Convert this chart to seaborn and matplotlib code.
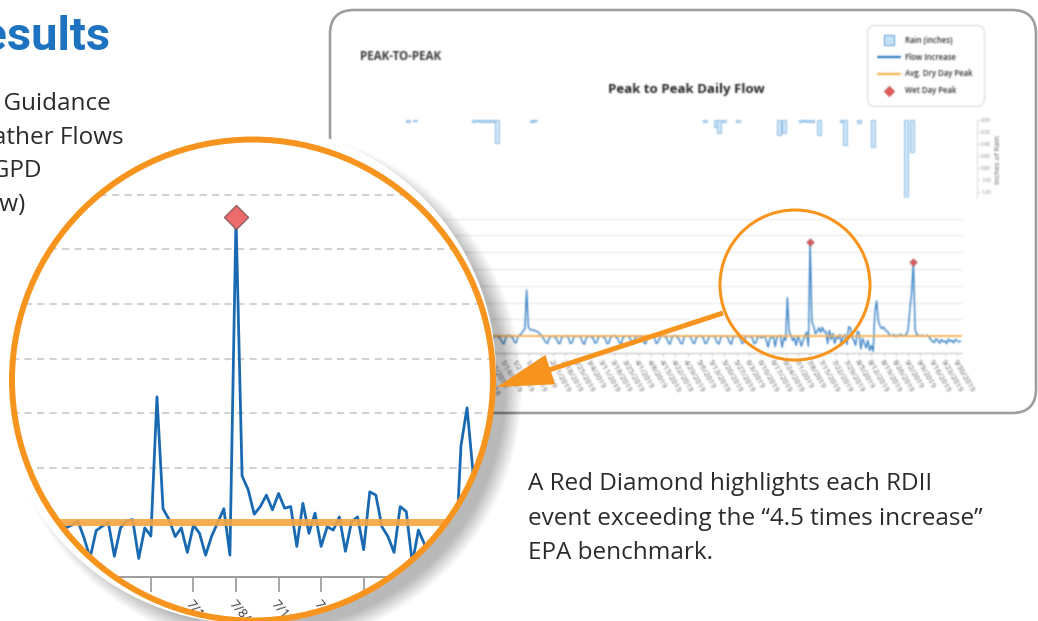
import numpy as np
import pandas as pd
import matplotlib
matplotlib.use("Agg")
import matplotlib.pyplot as plt
import matplotlib.transforms as mtransforms
from matplotlib.patches import Circle, FancyBboxPatch, FancyArrow, Rectangle
from matplotlib.lines import Line2D
import seaborn as sns

# ---------------------------------------------------------------- data
start_date = "2018-11-15"

# daily peak-to-peak flow, in multiples of the average dry-day peak
flow_increase = [
    0.95, 1.02, 0.88, 0.62, 0.55, 0.91, 1.00, 0.97, 1.04, 0.85, 0.58, 0.66, 0.94, 1.01,   # 0-13
    0.99, 0.92, 1.05, 0.71, 0.52, 0.88, 0.97, 1.03, 0.95, 0.90, 0.63, 0.57, 0.93, 1.02,   # 14-27
    0.98, 1.06, 0.89, 0.60, 0.54, 0.90, 0.99, 1.04, 0.96, 0.87, 0.59, 0.65, 0.95, 1.00,   # 28-41
    1.03, 0.94, 0.91, 0.68, 0.56, 0.92, 1.05, 1.12, 0.98, 0.88, 0.61, 0.58, 0.96, 1.04,   # 42-55
    1.00, 0.93, 0.86, 0.64, 0.53, 0.89, 1.01, 1.06, 0.97, 0.92, 0.66, 0.60, 0.94, 1.08,   # 56-69
    1.15, 1.30, 1.45, 3.75, 1.55, 1.40, 1.35, 1.38, 1.30, 1.28, 1.20, 1.10, 0.95, 0.80,   # 70-83
    0.62, 0.58, 0.90, 0.99, 1.03, 0.94, 0.88, 0.60, 0.55, 0.91, 1.02, 0.97, 1.05, 0.86,   # 84-97
    0.57, 0.63, 0.95, 1.01, 0.96, 1.04, 0.90, 0.62, 0.52, 0.87, 0.98, 1.02, 0.93, 0.89,   # 98-111
    0.58, 0.64, 0.92, 1.03, 0.99, 0.95, 0.85, 0.55, 0.60, 0.93, 1.00, 1.06, 0.94, 0.88,   # 112-125
    0.63, 0.51, 0.90, 0.97, 1.04, 0.98, 0.91, 0.59, 0.56, 0.88, 1.01, 0.95, 1.03, 0.87,   # 126-139
    0.61, 0.54, 0.94, 1.02, 0.97, 1.05, 0.92, 0.57, 0.62, 0.89, 0.99, 1.04, 0.96, 0.90,   # 140-153
    0.60, 0.53, 0.91, 1.00, 1.06, 0.93, 0.86, 0.58, 0.55, 0.95, 1.03, 0.98, 1.01, 0.88,   # 154-167
    0.62, 0.57, 0.93, 0.99, 1.05, 0.96, 0.89, 0.56, 0.61, 0.90, 1.02, 0.97, 1.04, 0.85,   # 168-181
    0.59, 0.54, 0.92, 1.01, 0.98, 1.03, 0.90, 0.63, 0.52, 0.94, 1.00, 0.96, 1.05, 0.87,   # 182-195
    0.58, 0.60, 0.91, 1.03, 0.97, 0.99, 0.88, 0.55, 0.62, 0.93, 1.01,                     # 196-206
    0.90, 0.95, 1.02, 0.72, 0.35, 0.85, 0.93, 1.00, 0.38, 0.90, 1.03, 1.05, 0.34, 0.90,   # 207-220
    0.75, 3.30, 1.25, 1.05, 0.74, 0.90, 0.45, 0.95, 0.80, 0.40, 0.75, 1.00, 1.25, 0.40, 6.60,  # 221-235
    1.85, 1.60, 1.15, 1.29, 1.50, 1.23, 1.53, 1.26, 1.29, 0.56, 1.35, 0.80, 1.17, 0.56,   # 236-249
    0.92, 0.86, 1.10, 0.47, 1.01, 1.10, 0.50, 1.56, 1.50, 0.92, 0.74, 0.45, 1.29, 1.20,   # 250-263
    0.25, 0.86, 0.60, 0.30, 0.75, 0.15, 0.45, 0.10, 2.40, 3.10, 1.90, 1.60, 1.45, 1.55,   # 264-277
    1.35, 1.30, 1.15, 1.00, 1.05, 1.10, 0.95, 1.08, 1.02, 1.12, 0.98, 1.05, 1.10, 1.40,   # 278-291
    2.60, 3.60, 5.40, 1.40, 1.10, 1.05, 1.00, 1.07, 0.98, 1.04, 1.06, 0.95, 0.78, 0.70,   # 292-305
    0.62, 0.85, 0.74, 0.58, 0.80, 0.67, 0.72, 0.55, 0.83, 0.69, 0.76, 0.60, 0.81, 0.73, 0.66, 0.70,  # 306-321
]
avg_dry_day_peak = 1.0
wet_day_threshold = 4.5

rain_days = [5, 9, 43, 45, 47, 49, 51, 53, 56, 76, 78, 175, 181, 183, 186, 194,
             217, 220, 230, 232, 234, 236, 240, 253, 255, 263, 271, 290, 293]
rain_inches = [0.03, 0.02, 0.03, 0.02, 0.04, 0.03, 0.03, 0.04, 0.38, 0.03, 0.02, 0.03, 0.12, 0.22,
               0.03, 0.03, 0.25, 0.22, 0.03, 0.02, 0.03, 0.03, 0.25, 0.04, 0.42, 0.05, 0.45, 1.30, 0.53]
rain_ticks = [0.0, 0.2, 0.4, 0.6, 0.8, 1.0, 1.2]

legend_labels = ["Rain (inches)", "Flow Increase", "Avg. Dry Day Peak", "Wet Day Peak"]

intro_lines = ["Uses EPA Guidance", "for Wet Weather Flows", "(over 275 GPD", "per capita flow)"]
caption_lines = ["A Red Diamond highlights each RDII",
                 "event exceeding the \u201c4.5 times increase\u201d",
                 "EPA benchmark."]

flow = np.array(flow_increase)
days = np.arange(len(flow))
dates = pd.date_range(start_date, periods=len(flow), freq="D")
tick_days = days[4::7]
tick_labels = [f"{d.month}/{d.day}/{d.year}" for d in dates[tick_days]]
is_wet = flow > wet_day_threshold
wet_days, wet_peaks = days[is_wet], flow[is_wet]

# ---------------------------------------------------------------- style / helpers
W, H = 1038, 621
ORANGE = "#f7941d"
BLUE_HEAD = "#1d73bf"
TEXT = "#2b2b2b"

sns.set_theme(style="white")
plt.rcParams["font.family"] = ["Open Sans", "DejaVu Sans"]

fig = plt.figure(figsize=(W / 100, H / 100), dpi=100)
fig.patch.set_facecolor("white")
px_tf = mtransforms.Affine2D().scale(1 / W, -1 / H).translate(0, 1) + fig.transFigure


def px_box(x0, y0, x1, y1):
    return [x0 / W, 1 - y1 / H, (x1 - x0) / W, (y1 - y0) / H]


def overlay(z):
    a = fig.add_axes([0, 0, 1, 1], zorder=z)
    a.set_xlim(0, W)
    a.set_ylim(H, 0)
    a.set_axis_off()
    return a


def slant_labels(ax, angle):
    for lab in ax.get_xticklabels():
        lab.set_rotation(angle)
        lab.set_ha("left")
        lab.set_rotation_mode("anchor")


class SoftFocus:
    """Gaussian softening applied to a rendered layer (premultiplied)."""

    def __init__(self, sigma):
        self.sigma = sigma

    def __call__(self, im, dpi):
        s = self.sigma * dpi / 100.0
        r = max(1, int(np.ceil(3 * s)))
        k = np.exp(-0.5 * (np.arange(-r, r + 1) / s) ** 2)
        k /= k.sum()
        a = im[..., 3:4]
        pm = np.concatenate([im[..., :3] * a, a], axis=-1)
        p = np.pad(pm, ((2 * r, 2 * r), (2 * r, 2 * r), (0, 0)))
        hh, ww = p.shape[:2]
        n = 2 * r + 1
        rows = sum(k[i] * p[i:hh - n + 1 + i] for i in range(n))
        out = sum(k[i] * rows[:, i:ww - n + 1 + i] for i in range(n))
        alpha = out[..., 3:4]
        rgb = np.where(alpha > 1e-6, out[..., :3] / np.maximum(alpha, 1e-6), 0.0)
        return np.concatenate([np.clip(rgb, 0, 1), np.clip(alpha, 0, 1)], axis=-1), -r, -r


class LensMask:
    """Keeps only the part of a full-canvas layer that lies inside a circle."""

    def __init__(self, cx, cy, r):
        self.cx, self.cy, self.r = cx, cy, r

    def __call__(self, im, dpi):
        h, w = im.shape[:2]
        sc = dpi / 100.0
        yy, xx = np.mgrid[0:h, 0:w]
        d = np.hypot(xx + 0.5 - self.cx * sc, yy + 0.5 - self.cy * sc)
        keep = np.clip(self.r * sc - d + 0.5, 0.0, 1.0)
        out = im.copy()
        out[..., 3] *= keep
        return out, 0, 0


# ---------------------------------------------------------------- page background & text
back = overlay(0)
back.add_patch(FancyBboxPatch((330, 10), 706, 403, boxstyle="round,pad=0,rounding_size=24",
                              fc="white", ec="#9e9e9e", lw=1.9))
back.text(110, 50, "Results", ha="right", va="baseline", fontsize=34, fontweight="bold",
          color=BLUE_HEAD, family=["Roboto", "DejaVu Sans"])
for line, x_end, y in zip(intro_lines, [111, 124, 41, 25], [110, 144, 177, 211]):
    back.text(x_end, y, line, ha="right", va="baseline", fontsize=17.5, color=TEXT)
for line, y in zip(caption_lines, [490, 525, 559]):
    back.text(528, y, line, ha="left", va="baseline", fontsize=17.5, color=TEXT)

# ---------------------------------------------------------------- panel chart
CHART_L, CHART_R, RAIN_R = 398, 962, 977
FLOW_TOP, FLOW_BASE = 118, 353
DAY_PX, UNIT_PX = 1.75, 16.8

ax_rain = fig.add_axes(px_box(CHART_L, 120, RAIN_R, 198), zorder=1)
ax_rain.bar(rain_days, rain_inches, width=2.4, color="#d0e7f8", edgecolor="#80b4e2", linewidth=0.6)
ax_rain.yaxis.tick_right()
ax_rain.yaxis.set_label_position("right")
ax_rain.set_yticks(rain_ticks, [f"{v:.2f}" for v in rain_ticks])
ax_rain.tick_params(axis="y", right=True, left=False, length=2, width=0.4, color="#bdbdbd",
                    labelsize=3.6, labelcolor="#8a8a8a", pad=1)
ax_rain.set_ylabel("Inches of Rain", fontsize=5.4, color="#5a5a5a", labelpad=3)
ax_rain.set_xticks([])
ax_rain.set_xlim(-0.5, -0.5 + (RAIN_R - CHART_L) / DAY_PX)
ax_rain.set_ylim(1.3, 0)
for s in ("top", "left", "bottom"):
    ax_rain.spines[s].set_visible(False)
ax_rain.spines["right"].set_color("#cfcfcf")
ax_rain.spines["right"].set_linewidth(0.5)
ax_rain.set_facecolor("none")
ax_rain.set_agg_filter(SoftFocus(0.8))

ax_flow = fig.add_axes(px_box(CHART_L, FLOW_TOP, CHART_R, FLOW_BASE), zorder=2)
sns.lineplot(x=days, y=flow, ax=ax_flow, color="#3a83c6", linewidth=1.0, legend=False, zorder=2)
ax_flow.axhline(avg_dry_day_peak, color="#f8b04e", lw=1.3, zorder=3)
sns.scatterplot(x=wet_days, y=wet_peaks, ax=ax_flow, marker="D", s=14, color="#de5a5a",
                edgecolor="#8d4f4f", linewidth=0.4, zorder=4, legend=False)
ax_flow.set_yticks(np.arange(1, 9))
ax_flow.yaxis.grid(True, color="#e4e4e4", lw=0.7)
ax_flow.tick_params(axis="y", length=0, labelleft=False)
ax_flow.set_xticks(tick_days, tick_labels)
ax_flow.tick_params(axis="x", bottom=True, direction="out", length=2.5, width=0.5, color="#b5b5b5",
                    labelsize=5.6, labelcolor="#626262", pad=1.5)
ax_flow.set_xlim(-0.5, -0.5 + (CHART_R - CHART_L) / DAY_PX)
ax_flow.set_ylim(0, (FLOW_BASE - FLOW_TOP) / UNIT_PX)
for s in ("top", "left", "right"):
    ax_flow.spines[s].set_visible(False)
ax_flow.spines["bottom"].set_color("#bdbdbd")
ax_flow.spines["bottom"].set_linewidth(0.7)
ax_flow.set_xlabel("")
ax_flow.set_ylabel("")
ax_flow.set_facecolor("none")
slant_labels(ax_flow, -60)

ax_flow.text(360, 57, "PEAK-TO-PEAK", transform=px_tf, fontsize=8.4, fontweight="bold",
             color="#3a3a3a", ha="left", va="center", clip_on=False)
ax_flow.text(686, 90, "Peak to Peak Daily Flow", transform=px_tf, fontsize=9.5, fontweight="bold",
             color="#262626", ha="center", va="center", clip_on=False)

handles = [
    Line2D([], [], ls="none", marker="s", ms=6.5, mfc="#c6e2f8", mec="#5b9fd8", mew=0.7),
    Line2D([], [], color="#2a78c2", lw=1.6),
    Line2D([], [], color="#f9b24a", lw=1.6),
    Line2D([], [], ls="none", marker="D", ms=5, mfc="#e55b5b", mec="#b04848", mew=0.6),
]
leg = ax_flow.legend(handles=handles, labels=legend_labels, loc="upper left",
                     bbox_to_anchor=(867, 25), bbox_transform=px_tf, borderaxespad=0,
                     prop={"size": 5.6, "weight": "semibold"}, frameon=True, fancybox=True,
                     framealpha=1, edgecolor="#d6d6d6", borderpad=1.4, labelspacing=1.0,
                     handlelength=2.9, handletextpad=0.6, labelcolor="#333333")
leg.get_frame().set_linewidth(0.7)
leg.get_frame().set_boxstyle("round,pad=0,rounding_size=1.0")
ax_flow.set_agg_filter(SoftFocus(0.8))

# ---------------------------------------------------------------- magnifier base
CX, CY, R = 252.5, 380, 240.5
front = overlay(3)
for i in range(18):
    front.add_patch(Circle((CX + 11, CY + 9), R + 18 - i, fc="black", ec="none", alpha=0.014))
front.add_patch(Circle((CX - 6, CY - 6), R + 9, fc="white", ec="none"))
front.add_patch(Circle((CX, CY), R, fc="white", ec="none"))

# ---------------------------------------------------------------- magnified chart
Z_DAY_PX, Z_UNIT_PX = 6.08, 54.6
Z_ANCHOR_DAY, Z_ANCHOR_X, Z_BASE_Y = 235, 236, 577
zx0, zx1, zy0, zy1 = CX - R, CX + R, CY - R, CY + R

ax_zoom = fig.add_axes(px_box(zx0, zy0, zx1, zy1), zorder=4)
canvas_veil = Rectangle((0, 0), 1, 1, transform=fig.transFigure, facecolor="white",
                        alpha=0.01, lw=0, zorder=0)
ax_zoom.add_artist(canvas_veil)
canvas_veil.set_clip_on(False)
sns.lineplot(x=days, y=flow, ax=ax_zoom, color="#1a6ab3", linewidth=2.0, legend=False, zorder=3)
ax_zoom.axhline(avg_dry_day_peak, color="#f7a540", lw=5, alpha=0.9, zorder=4)
sns.scatterplot(x=wet_days, y=wet_peaks, ax=ax_zoom, marker="D", s=150, color="#ec6b6b",
                edgecolor="#8f6060", linewidth=1.0, zorder=5, legend=False)
ax_zoom.set_yticks(np.arange(2, 8))
ax_zoom.yaxis.grid(True, color="#d2d2d2", lw=1.5, ls=(0, (3.5, 2.5)))
ax_zoom.xaxis.grid(False)
ax_zoom.set_axisbelow(True)
ax_zoom.tick_params(axis="y", length=0, labelleft=False)
ax_zoom.set_xticks(tick_days, tick_labels)
ax_zoom.set_xlim(Z_ANCHOR_DAY + (zx0 - Z_ANCHOR_X) / Z_DAY_PX, Z_ANCHOR_DAY + (zx1 - Z_ANCHOR_X) / Z_DAY_PX)
ax_zoom.set_ylim((Z_BASE_Y - zy1) / Z_UNIT_PX, (Z_BASE_Y - zy0) / Z_UNIT_PX)
for s in ("top", "left", "right"):
    ax_zoom.spines[s].set_visible(False)
ax_zoom.spines["bottom"].set_position(("data", 0.0))
ax_zoom.spines["bottom"].set_color("#9c9c9c")
ax_zoom.spines["bottom"].set_linewidth(1.4)
ax_zoom.tick_params(axis="x", bottom=True, direction="out", length=10.5, width=1.1, color="#8d8d8d",
                    labelsize=9.5, labelcolor="#3a3a3a", pad=4)
slant_labels(ax_zoom, -50)
ax_zoom.set_xlabel("")
ax_zoom.set_ylabel("")
ax_zoom.set_facecolor("none")
ax_zoom.set_agg_filter(LensMask(CX, CY, R - 1))

# ---------------------------------------------------------------- rings and pointer
top = overlay(5)
top.add_patch(Circle((CX, CY), R, fill=False, ec=ORANGE, lw=4.3))
top.add_patch(Circle((795, 285), 75, fill=False, ec=ORANGE, lw=2.2))
top.add_patch(FancyArrow(723, 313, 497 - 723, 387 - 313, width=5, head_width=31, head_length=56,
                         length_includes_head=True, color=ORANGE, lw=0))

fig.savefig("out.png", dpi=100)
